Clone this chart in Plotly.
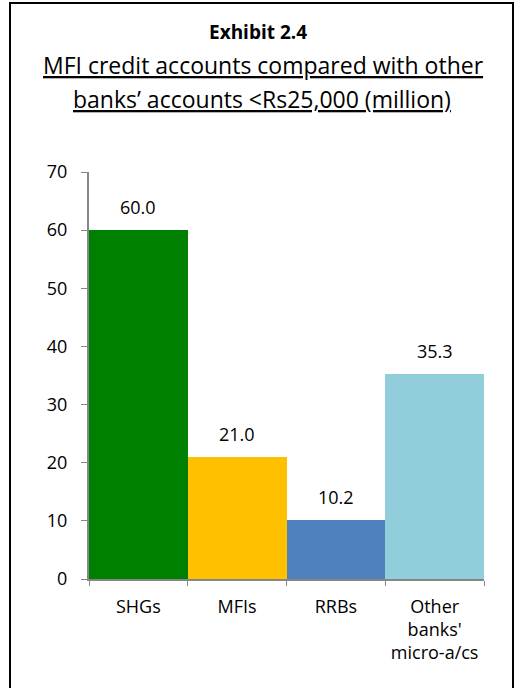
import plotly.graph_objects as go

# Credit accounts below Rs25,000, in millions
categories = ["SHGs", "MFIs", "RRBs", "Other<br>banks'<br>micro-a/cs"]
accounts = [60.0, 21.0, 10.2, 35.3]
bar_colors = ["#008000", "#FFC000", "#4F81BD", "#92CDDC"]
y_ticks = [0, 10, 20, 30, 40, 50, 60, 70]

W, H = 517, 688
ML, MR, MT, MB = 89, 33, 172, 109
pw, ph = W - ML - MR, H - MT - MB

FONT = "Open Sans"
AXIS_GREY = "#868686"

fig = go.Figure(
    go.Bar(
        x=categories,
        y=accounts,
        marker=dict(color=bar_colors, line=dict(width=0)),
        hoverinfo="skip",
    )
)

# Value labels above each bar
for cat, val in zip(categories, accounts):
    fig.add_annotation(
        x=cat, y=val, text=f"{val:.1f}", showarrow=False,
        yanchor="bottom", yshift=9,
        font=dict(family=FONT, size=18, color="#000000"),
    )

def px_x(px):
    return (px - ML) / pw

def px_y(py):
    return (H - MB - py) / ph

# Title block
fig.add_annotation(
    xref="paper", yref="paper", x=px_x(258), y=px_y(32),
    xanchor="center", yanchor="middle",
    text="<b>Exhibit 2.4</b>", showarrow=False,
    font=dict(family=FONT, size=19, color="#000000"),
)
fig.add_annotation(
    xref="paper", yref="paper", x=px_x(263), y=px_y(65),
    xanchor="center", yanchor="middle",
    text="<u>MFI credit accounts compared with other</u>", showarrow=False,
    font=dict(family=FONT, size=23, color="#000000"),
)
fig.add_annotation(
    xref="paper", yref="paper", x=px_x(262), y=px_y(99),
    xanchor="center", yanchor="middle",
    text="<u>banks\u2019 accounts <Rs25,000 (million)</u>", showarrow=False,
    font=dict(family=FONT, size=23, color="#000000"),
)

# Outer frame
fig.add_shape(
    type="rect", xref="paper", yref="paper",
    x0=px_x(10), x1=px_x(513), y0=px_y(700), y1=px_y(3),
    line=dict(color="#000000", width=2), fillcolor="rgba(0,0,0,0)",
    layer="above",
)

fig.update_layout(
    width=W, height=H,
    margin=dict(l=ML, r=MR, t=MT, b=MB),
    paper_bgcolor="white", plot_bgcolor="white",
    bargap=0, showlegend=False,
    font=dict(family=FONT, size=18, color="#000000"),
)
fig.update_xaxes(
    showline=True, linecolor=AXIS_GREY, linewidth=2,
    ticks="outside", tickson="boundaries", ticklen=5, tickcolor=AXIS_GREY,
    tickwidth=1, showgrid=False, ticklabelstandoff=10,
    tickfont=dict(family=FONT, size=18, color="#000000"),
)
fig.update_yaxes(
    range=[0, 70], tickvals=y_ticks,
    showline=True, linecolor=AXIS_GREY, linewidth=2,
    ticks="outside", ticklen=6, tickcolor=AXIS_GREY, tickwidth=1,
    showgrid=False, zeroline=False, ticklabelstandoff=10,
    tickfont=dict(family=FONT, size=18, color="#000000"),
)

fig.write_html("out.html")
